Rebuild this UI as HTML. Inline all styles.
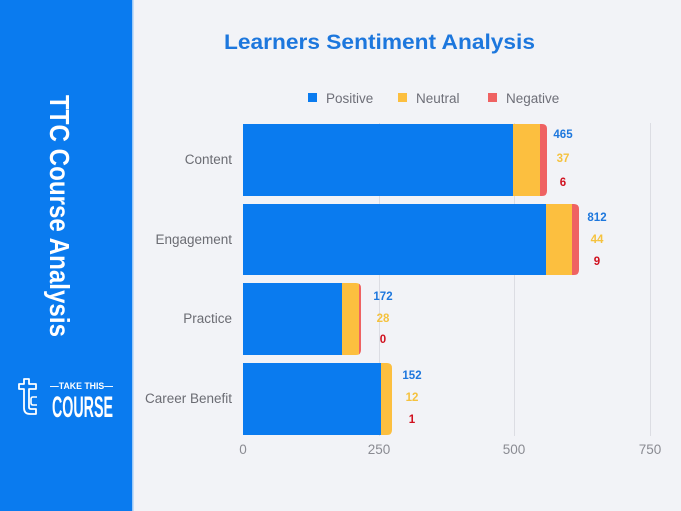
<!DOCTYPE html>
<html><head><meta charset="utf-8"><style>
html,body{margin:0;padding:0;background:#f2f3f7;}
svg{display:block;}
</style></head><body>
<svg width="681" height="511" viewBox="0 0 681 511" xmlns="http://www.w3.org/2000/svg" font-family="Liberation Sans, Arial, sans-serif">
<rect x="0" y="0" width="681" height="511" fill="#f2f3f7"/>
<rect x="0" y="0" width="132" height="511" fill="#0a7bef"/>
<rect x="132" y="0" width="1.5" height="511" fill="#9cc8f6"/>

<!-- vertical title -->
<text transform="translate(50,95) rotate(90)" x="0" y="0" font-size="28" font-weight="bold" fill="#ffffff" textLength="242" lengthAdjust="spacingAndGlyphs">TTC Course Analysis</text>

<!-- logo -->
<path d="M24 379 L24 384 L19 384 L19 389 L24 389 L24 408 Q24 414 30 414 L36 414 L36 409 L31 409 Q29 409 29 407 L29 389 L36 389 L36 384 L29 384 L29 379 Z" fill="none" stroke="#ffffff" stroke-width="1.8" stroke-linejoin="round"/>
<path d="M37 397 L33 397 Q31 397 31 399 L31 403 Q31 405 33 405 L37 405" fill="none" stroke="#ffffff" stroke-width="1.6"/>
<text x="50" y="389" font-size="9.5" font-weight="bold" fill="#ffffff" textLength="63" lengthAdjust="spacingAndGlyphs">—TAKE THIS—</text>
<text x="52" y="417" font-size="30" font-weight="bold" fill="#ffffff" textLength="61" lengthAdjust="spacingAndGlyphs">COURSE</text>

<!-- chart title -->
<text x="224" y="49" font-size="21" font-weight="bold" fill="#1d77dd" textLength="311" lengthAdjust="spacingAndGlyphs">Learners Sentiment Analysis</text>

<!-- legend -->
<rect x="308" y="93" width="9" height="9" fill="#0a7bef"/>
<text x="326" y="103" font-size="13.5" fill="#6e6f78">Positive</text>
<rect x="398" y="93" width="9" height="9" fill="#fcbf3f"/>
<text x="416" y="103" font-size="13.5" fill="#6e6f78">Neutral</text>
<rect x="488" y="93" width="9" height="9" fill="#ef6262"/>
<text x="506" y="103" font-size="13.5" fill="#6e6f78">Negative</text>

<!-- gridlines -->
<g stroke="#dcdde3" stroke-width="1">
<line x1="379.5" y1="123" x2="379.5" y2="436"/>
<line x1="514.5" y1="123" x2="514.5" y2="436"/>
<line x1="650.5" y1="123" x2="650.5" y2="436"/>
</g>

<defs>
<clipPath id="c1"><path d="M243 124 H542 Q547 124 547 129 V191 Q547 196 542 196 H243 Z"/></clipPath>
<clipPath id="c2"><path d="M243 204 H574 Q579 204 579 209 V270 Q579 275 574 275 H243 Z"/></clipPath>
<clipPath id="c3"><path d="M243 283 H356 Q361 283 361 288 V350 Q361 355 356 355 H243 Z"/></clipPath>
<clipPath id="c4"><path d="M243 363 H387 Q392 363 392 368 V430 Q392 435 387 435 H243 Z"/></clipPath>
</defs>

<g clip-path="url(#c1)">
<rect x="243" y="124" width="270" height="72" fill="#0a7bef"/>
<rect x="513" y="124" width="27" height="72" fill="#fcbf3f"/>
<rect x="540" y="124" width="8" height="72" fill="#ef6262"/>
</g>
<g clip-path="url(#c2)">
<rect x="243" y="204" width="303" height="71" fill="#0a7bef"/>
<rect x="546" y="204" width="26" height="71" fill="#fcbf3f"/>
<rect x="572" y="204" width="8" height="71" fill="#ef6262"/>
</g>
<g clip-path="url(#c3)">
<rect x="243" y="283" width="99" height="72" fill="#0a7bef"/>
<rect x="342" y="283" width="17" height="72" fill="#fcbf3f"/>
<rect x="359" y="283" width="3" height="72" fill="#ef6262"/>
</g>
<g clip-path="url(#c4)">
<rect x="243" y="363" width="138" height="72" fill="#0a7bef"/>
<rect x="381" y="363" width="12" height="72" fill="#fcbf3f"/>
</g>

<!-- category labels -->
<g font-size="13.5" fill="#6b6c73" text-anchor="end">
<text x="232" y="164">Content</text>
<text x="232" y="244">Engagement</text>
<text x="232" y="323">Practice</text>
<text x="232" y="403">Career Benefit</text>
</g>

<!-- value labels -->
<g font-size="11.5" font-weight="bold" text-anchor="middle">
<text x="563" y="138" fill="#1d77dd">465</text>
<text x="563" y="162" fill="#f5c23e">37</text>
<text x="563" y="186" fill="#d0101e">6</text>
<text x="597" y="221" fill="#1d77dd">812</text>
<text x="597" y="243" fill="#f5c23e">44</text>
<text x="597" y="265" fill="#d0101e">9</text>
<text x="383" y="300" fill="#1d77dd">172</text>
<text x="383" y="322" fill="#f5c23e">28</text>
<text x="383" y="343" fill="#d0101e">0</text>
<text x="412" y="379" fill="#1d77dd">152</text>
<text x="412" y="401" fill="#f5c23e">12</text>
<text x="412" y="423" fill="#d0101e">1</text>
</g>

<!-- x tick labels -->
<g font-size="13.5" fill="#8a8b92" text-anchor="middle">
<text x="243" y="454">0</text>
<text x="379" y="454">250</text>
<text x="514" y="454">500</text>
<text x="650" y="454">750</text>
</g>
</svg>
</body></html>
